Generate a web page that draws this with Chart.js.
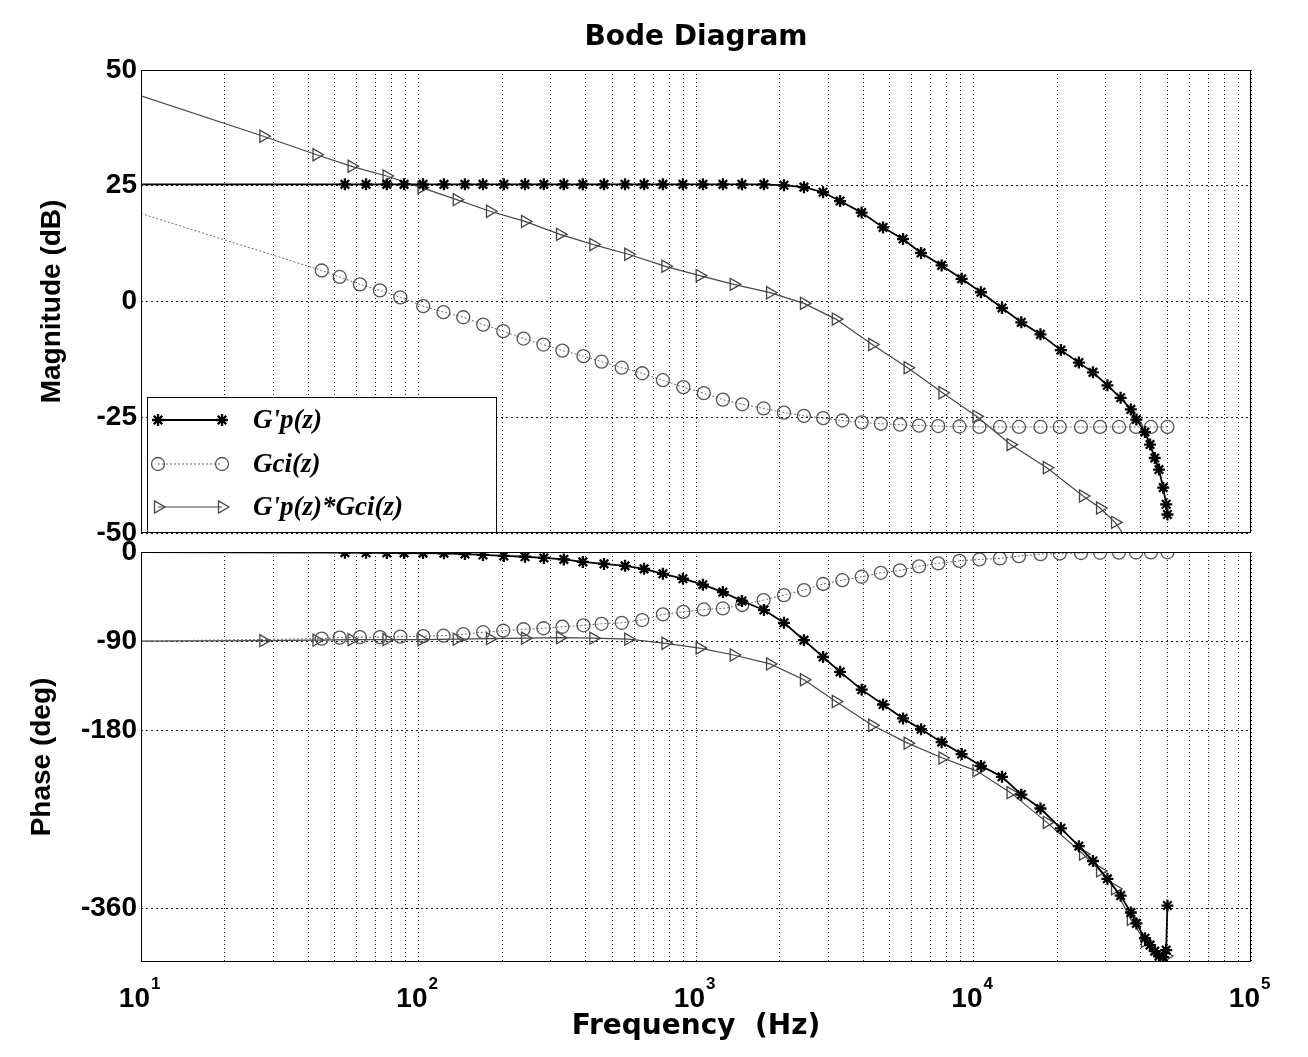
<!DOCTYPE html>
<html>
<head>
<meta charset="utf-8">
<title>Bode Diagram</title>
<script src="https://cdn.jsdelivr.net/npm/chart.js@4.4.1/dist/chart.umd.min.js"></script>
<style>
  html, body { margin: 0; padding: 0; background: #fff; }
  #wrap { position: relative; width: 1308px; height: 1057px; }
  #wrap canvas { position: absolute; left: 0; top: 0; }
</style>
</head>
<body>
<div id="wrap">
  <canvas id="phase" width="1308" height="1057"></canvas>
  <canvas id="mag" width="1308" height="1057"></canvas>
</div>
<script>
// ---- axis ticks ----
const decades = [10, 100, 1000, 10000, 100000];
const decadeExponents = ['1', '2', '3', '4', '5'];
const gridMultipliers = [1, 2, 3, 4, 5, 6, 7, 8, 9];
const magTicks = [50, 25, 0, -25, -50];
const phaseTicks = [0, -90, -180, -360];

// ---- G'p(z): plant ----
const gpFreq = [10, 54.3, 64.7, 76.9, 88.7, 103.8, 123.5, 147, 170.7, 203, 242, 283, 334, 391, 466, 555,
  650, 760, 897, 1059, 1250, 1464, 1757, 2075, 2449, 2870, 3306, 3954, 4722, 5572, 6471, 7677, 9064,
  10640, 12670, 14870, 17430, 20650, 23970, 26940, 30380, 33900, 36900, 38650, 41480, 43270, 44990,
  46590, 48260, 49460, 49980];
const gpMag = [25.3, 25.3, 25.3, 25.3, 25.3, 25.3, 25.3, 25.3, 25.3, 25.3, 25.3, 25.3, 25.3, 25.3, 25.3, 25.3,
  25.3, 25.3, 25.3, 25.3, 25.3, 25.3, 25.3, 25.1, 24.7, 23.6, 21.7, 19.2, 16.0, 13.5, 10.5, 7.8, 4.9,
  2.0, -1.4, -4.5, -7.1, -10.5, -13.2, -15.3, -18.1, -20.8, -23.3, -25.5, -28.2, -30.9, -33.8,
  -36.3, -40.2, -43.8, -46.0];
const gpPhase = [0, -0.7, -0.8, -0.9, -1.0, -1.1, -1.3, -2.0, -3.0, -4.0, -4.8, -6.0, -7.5, -10.0, -12.0, -14.0,
  -17.0, -22.0, -27.0, -33.0, -40.5, -49.5, -58.6, -71.5, -89.0, -106.0, -121.0, -139.0, -154.0, -168.0, -179.0, -192.0, -204.0,
  -216.0, -227.0, -245.0, -259.0, -279.0, -297.0, -312.0, -330.0, -347.0, -364.0, -375.0, -390.0, -397.0, -403.0,
  -408.0, -409.0, -402.0, -357.0];

// ---- Gci(z): controller ----
const gciFreq = [10, 44.8, 52, 61.5, 72.6, 86, 104, 123, 145, 171, 202, 239, 282, 330, 393, 457, 540,
  640, 760, 900, 1067, 1250, 1468, 1752, 2075, 2449, 2873, 3368, 3954, 4636, 5432, 6366, 7463, 8900,
  10500, 12450, 14580, 17430, 20450, 24400, 28580, 33440, 38540, 43600, 50000];
const gciMag = [19.0, 6.7, 5.3, 3.7, 2.4, 0.9, -1.0, -2.3, -3.4, -5.0, -6.4, -8.0, -9.3, -10.6, -11.8, -13.0, -14.3,
  -15.5, -17.0, -18.5, -19.8, -21.2, -22.2, -23.1, -24.0, -24.7, -25.2, -25.7, -26.1, -26.4, -26.6, -26.8, -26.9, -27.0,
  -27.1, -27.1, -27.1, -27.1, -27.1, -27.1, -27.1, -27.1, -27.1, -27.1, -27.1];
const gciPhase = [-90, -87.5, -86.5, -86, -86, -85.5, -85, -84.5, -83, -81, -79.5, -78, -77, -75.5, -74, -72.5, -71.5,
  -68.7, -63, -60.5, -58, -57, -53.5, -48.5, -43.5, -38.4, -32.3, -28.5, -25, -21, -18.5, -14.5, -11.5, -9,
  -7.5, -6.5, -4.2, -2.2, -1.5, -1, -0.8, -0.6, -0.5, -0.4, -0.3];

// ---- G'p(z)*Gci(z): open loop ----
const olFreq = [10, 27.6, 42.9, 57.4, 76.7, 102.5, 137.3, 181, 242, 323.6, 426.6, 570, 776, 1031, 1367,
  1849, 2449, 3190, 4315, 5790, 7730, 10250, 13600, 18380, 24810, 28580, 32360, 36900, 41480, 46590, 49460];
const olMag = [44.4, 35.7, 31.7, 29.2, 27.1, 24.6, 22.0, 19.5, 17.3, 14.5, 12.3, 10.2, 7.6, 5.6, 3.7,
  1.9, -0.4, -3.8, -9.3, -14.3, -19.7, -24.8, -30.9, -35.9, -42.0, -44.6, -47.7, -52.5, -57.5, -66.0, -73.0];
const olPhase = [-90, -89.5, -89, -88.5, -88.5, -88.5, -88, -87.5, -87, -86.5, -87, -88, -92.2, -97, -104,
  -113, -129, -151, -175, -193, -208, -221, -243, -273, -305, -322, -340, -371, -393, -411, -408];

const seriesLabels = ["G'p(z)", 'Gci(z)', "G'p(z)*Gci(z)"];

// ---- styles ----
const TICK_FONT = { family: '"Liberation Sans", Arial, sans-serif', weight: 'bold', size: 28 };
const WIDE_FONT = { family: '"DejaVu Sans", sans-serif', weight: 'bold', size: 28 };

const seriesStyles = [
  { borderColor: '#000', borderWidth: 1.8, pointStyle: 'star', radius: 6,
    pointBorderWidth: 2.3, pointBorderColor: '#000', pointBackgroundColor: '#000', pointRotation: 0 },
  { borderColor: '#6a6a6a', borderWidth: 1, borderDash: [2, 2], pointStyle: 'circle', radius: 6.5,
    pointBorderWidth: 1.3, pointBorderColor: '#555', pointBackgroundColor: 'rgba(0,0,0,0)', pointRotation: 0 },
  { borderColor: '#474747', borderWidth: 1.2, pointStyle: 'triangle', radius: 7,
    pointBorderWidth: 1.3, pointBorderColor: '#444', pointBackgroundColor: 'rgba(0,0,0,0)', pointRotation: 90 }
];

const toPoints = (freqs, vals) => freqs.map((f, i) => ({ x: f, y: vals[i] }));

function makeDataset(idx, freqs, vals) {
  const s = seriesStyles[idx];
  return {
    label: seriesLabels[idx],
    data: toPoints(freqs, vals),
    borderColor: s.borderColor,
    borderWidth: s.borderWidth,
    borderDash: s.borderDash || [],
    pointStyle: s.pointStyle,
    pointRotation: s.pointRotation,
    pointBorderWidth: s.pointBorderWidth,
    pointBorderColor: s.pointBorderColor,
    pointBackgroundColor: s.pointBackgroundColor,
    // the first sample only anchors the line at the left edge
    pointRadius: c => (c.dataIndex === 0 ? 0 : s.radius),
    pointHoverRadius: 0,
    tension: 0,
    fill: false,
    clip: 0
  };
}

function logGridTicks() {
  const out = [];
  for (let d = 0; d < decades.length - 1; d++) {
    gridMultipliers.forEach(m => out.push({ value: m * decades[d] }));
  }
  out.push({ value: decades[decades.length - 1] });
  return out;
}

function xScale(extra) {
  return Object.assign({
    type: 'logarithmic',
    min: decades[0],
    max: decades[decades.length - 1],
    afterBuildTicks: s => { s.ticks = logGridTicks(); },
    ticks: { display: false },
    grid: { color: '#1a1a1a', lineWidth: 1, drawTicks: false },
    border: { display: false, dash: [1, 3] }
  }, extra);
}

function yScale(min, max, ticks, title, titleOffset) {
  return {
    type: 'linear',
    min: min,
    max: max,
    afterBuildTicks: s => { s.ticks = ticks.map(v => ({ value: v })); },
    afterFit: s => { s.width = 141; },
    ticks: { font: TICK_FONT, color: '#000', padding: 4, autoSkip: false },
    grid: { color: '#1a1a1a', lineWidth: 1, drawTicks: false },
    border: { display: false, dash: [2, 3] },
    title: { display: true, text: title, color: '#000', font: TICK_FONT, padding: { top: titleOffset, bottom: 0 } }
  };
}

// box around the plotting area
const axesFrame = {
  id: 'axesFrame',
  afterDatasetsDraw(chart) {
    const { ctx, chartArea: a } = chart;
    ctx.save();
    ctx.strokeStyle = '#000';
    ctx.lineWidth = 1;
    const l = Math.round(a.left) + 0.5, t = Math.round(a.top) + 0.5;
    const r = Math.round(a.right) - 0.5, b = Math.round(a.bottom) - 0.5;
    ctx.strokeRect(l, t, r - l, b - t);
    ctx.restore();
  }
};

function drawMarker(ctx, style, x, y, r, rotDeg) {
  ctx.beginPath();
  if (style === 'circle') {
    ctx.arc(x, y, r, 0, Math.PI * 2);
    ctx.stroke();
  } else if (style === 'triangle') {
    const rot = rotDeg * Math.PI / 180;
    for (let k = 0; k < 3; k++) {
      const ang = rot - Math.PI / 2 + k * 2 * Math.PI / 3;
      const px = x + Math.cos(ang) * r, py = y + Math.sin(ang) * r;
      if (k === 0) ctx.moveTo(px, py); else ctx.lineTo(px, py);
    }
    ctx.closePath();
    ctx.stroke();
  } else {
    for (let k = 0; k < 4; k++) {
      const ang = k * Math.PI / 4;
      ctx.moveTo(x - Math.cos(ang) * r, y - Math.sin(ang) * r);
      ctx.lineTo(x + Math.cos(ang) * r, y + Math.sin(ang) * r);
    }
    ctx.stroke();
  }
}

// legend box in the lower-left corner of the magnitude axes
const cornerLegend = {
  id: 'cornerLegend',
  afterDraw(chart) {
    const { ctx, chartArea: a } = chart;
    const left = a.left + 6, bottom = a.bottom - 1, width = 349, height = 135;
    const top = bottom - height;
    ctx.save();
    ctx.fillStyle = '#fff';
    ctx.fillRect(left, top, width, height);
    ctx.strokeStyle = '#000';
    ctx.lineWidth = 1;
    ctx.strokeRect(Math.round(left) + 0.5, Math.round(top) + 0.5, width, height);
    const rowY = [top + 23, top + 67, top + 110];
    chart.data.datasets.forEach((ds, i) => {
      const s = seriesStyles[i];
      const y = rowY[i];
      const x1 = left + 11, x2 = left + 75;
      ctx.save();
      ctx.strokeStyle = s.borderColor;
      ctx.lineWidth = s.borderWidth;
      ctx.setLineDash(s.borderDash || []);
      ctx.beginPath();
      ctx.moveTo(x1, y); ctx.lineTo(x2, y);
      ctx.stroke();
      ctx.setLineDash([]);
      ctx.strokeStyle = s.pointBorderColor;
      ctx.lineWidth = s.pointBorderWidth;
      drawMarker(ctx, s.pointStyle, x1, y, s.radius, s.pointRotation);
      drawMarker(ctx, s.pointStyle, x2, y, s.radius, s.pointRotation);
      ctx.restore();
      ctx.fillStyle = '#000';
      ctx.font = 'italic bold 27px "Liberation Serif", "Times New Roman", serif';
      ctx.textAlign = 'left';
      ctx.textBaseline = 'middle';
      ctx.fillText(ds.label, left + 106, y + 1);
    });
    ctx.restore();
  }
};

// decade labels 10^n under the phase axes
const decadeLabels = {
  id: 'decadeLabels',
  afterDraw(chart) {
    const { ctx } = chart;
    const xs = chart.scales.x;
    const base = chart.chartArea.bottom;
    ctx.save();
    ctx.fillStyle = '#000';
    ctx.textBaseline = 'alphabetic';
    decades.forEach((v, i) => {
      const px = xs.getPixelForValue(v);
      ctx.font = 'bold 28px "Liberation Sans", Arial, sans-serif';
      ctx.textAlign = 'right';
      ctx.fillText('10', px + 9, base + 45);
      ctx.font = 'bold 17px "Liberation Sans", Arial, sans-serif';
      ctx.textAlign = 'left';
      ctx.fillText(decadeExponents[i], px + 10, base + 27);
    });
    ctx.restore();
  }
};

const common = {
  responsive: false,
  maintainAspectRatio: false,
  animation: false,
  events: []
};

// ---- magnitude axes ----
new Chart(document.getElementById('mag'), {
  type: 'line',
  data: {
    datasets: [
      makeDataset(0, gpFreq, gpMag),
      makeDataset(1, gciFreq, gciMag),
      makeDataset(2, olFreq, olMag)
    ]
  },
  options: Object.assign({}, common, {
    layout: { padding: { left: 0, right: 57, top: 0, bottom: 524 } },
    plugins: {
      legend: { display: false },
      tooltip: { enabled: false },
      title: {
        display: true, text: 'Bode Diagram', fullSize: false, color: '#000',
        font: WIDE_FONT, padding: { top: 21, bottom: 15.4 }
      }
    },
    scales: {
      x: xScale({ afterFit: s => { s.height = 0; } }),
      y: yScale(-50, 50, magTicks, 'Magnitude (dB)', 35)
    }
  }),
  plugins: [axesFrame, cornerLegend]
});

// ---- phase axes ----
new Chart(document.getElementById('phase'), {
  type: 'line',
  data: {
    datasets: [
      makeDataset(0, gpFreq, gpPhase),
      makeDataset(1, gciFreq, gciPhase),
      makeDataset(2, olFreq, olPhase)
    ]
  },
  options: Object.assign({}, common, {
    layout: { padding: { left: 0, right: 57, top: 552, bottom: 0 } },
    plugins: {
      legend: { display: false },
      tooltip: { enabled: false },
      title: { display: false }
    },
    scales: {
      x: xScale({
        afterFit: s => { s.height = 95; },
        title: { display: true, text: 'Frequency  (Hz)', color: '#000', font: WIDE_FONT, padding: { top: 0, bottom: 13 } }
      }),
      y: yScale(-414, 0, phaseTicks, 'Phase (deg)', 25)
    }
  }),
  plugins: [axesFrame, decadeLabels]
});
</script>
</body>
</html>
